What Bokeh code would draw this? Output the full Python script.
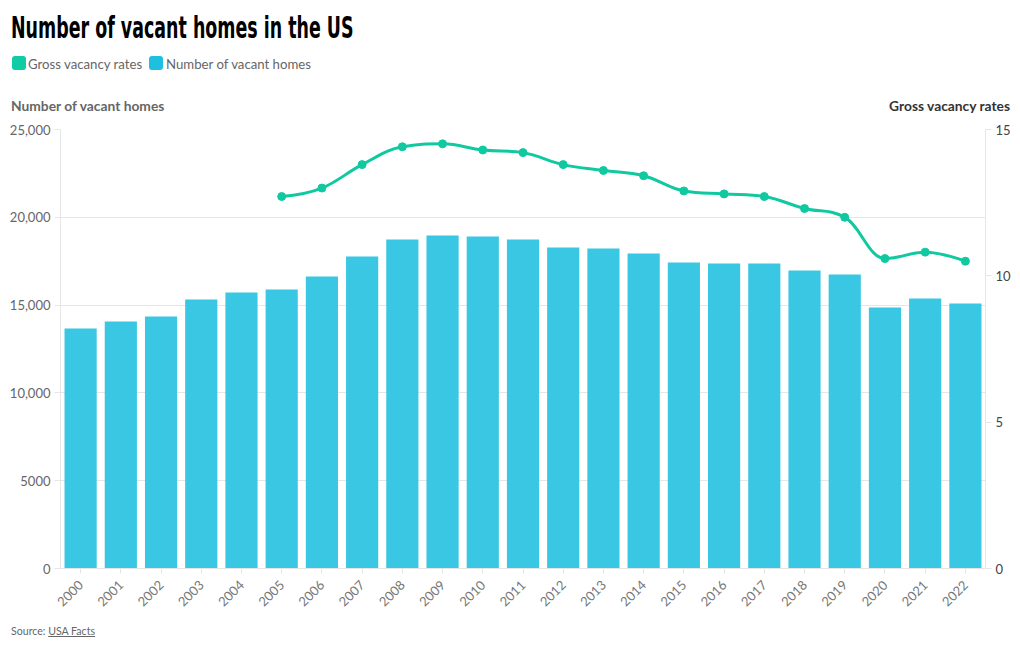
from math import pi
from bokeh.plotting import figure
from bokeh.models import FactorRange, Range1d, LinearAxis, FixedTicker, Div
from bokeh.layouts import column
from bokeh.embed import file_html
from bokeh.resources import INLINE

# ---------------- data ----------------
years = [str(y) for y in range(2000, 2023)]
vacant_homes = [13670, 14070, 14350, 15320, 15720, 15890, 16630, 17770, 18740, 18960,
                18910, 18740, 18280, 18220, 17940, 17430, 17370, 17370, 16970, 16740,
                14860, 15380, 15090]
rate_years = [str(y) for y in range(2005, 2023)]
vacancy_rates = [12.71, 13.0, 13.8, 14.41, 14.51, 14.3, 14.21, 13.8, 13.6, 13.42,
                 12.9, 12.8, 12.71, 12.3, 12.0, 10.59, 10.81, 10.5]
left_ticks = [0, 5000, 10000, 15000, 20000, 25000]
left_tick_labels = ["0", "5000", "10,000", "15,000", "20,000", "25,000"]
right_ticks = [0, 5, 10, 15]

title_text = "Number of vacant homes in the US"
series_names = ["Gross vacancy rates", "Number of vacant homes"]
left_axis_title = "Number of vacant homes"
right_axis_title = "Gross vacancy rates"
source_name = "USA Facts"

# ---------------- styles ----------------
BAR_COLOR = "#3ac7e3"
LINE_COLOR = "#10c9a0"
LEG_COLORS = ["#0fcca4", "#1fbfe0"]
FONT = "Lato"
GRID = "#e6e6e6"
TOTAL_W = 1020
HEADER_H = 115
FOOTER_H = 28

# ---------------- header ----------------
header_html = f"""
<div style="position:relative;width:{TOTAL_W}px;height:{HEADER_H}px;font-family:'{FONT}',sans-serif;">
  <div style="position:absolute;left:11px;top:13px;white-space:nowrap;font-family:'DejaVu Sans',sans-serif;
       font-weight:700;font-size:31px;line-height:28px;color:#000;transform:scaleX(0.5626);transform-origin:0 0;">{title_text}</div>
  <div style="position:absolute;left:12px;top:56px;width:14px;height:14px;border-radius:3px;background:{LEG_COLORS[0]};"></div>
  <div style="position:absolute;left:28px;top:56.5px;white-space:nowrap;font-size:13.2px;line-height:14px;color:#666;">{series_names[0]}</div>
  <div style="position:absolute;left:149px;top:56px;width:14px;height:14px;border-radius:3px;background:{LEG_COLORS[1]};"></div>
  <div style="position:absolute;left:166px;top:56.5px;white-space:nowrap;font-size:13.2px;line-height:14px;color:#666;">{series_names[1]}</div>
  <div style="position:absolute;left:11px;top:99px;white-space:nowrap;font-size:13.8px;line-height:13px;font-weight:700;color:#666;">{left_axis_title}</div>
  <div style="position:absolute;right:10px;top:99px;white-space:nowrap;font-size:13.8px;line-height:13px;font-weight:700;color:#333;">{right_axis_title}</div>
</div>
"""
header = Div(text=header_html, width=TOTAL_W, height=HEADER_H, margin=(0, 0, 0, 0))

# ---------------- figure ----------------
FL, FR, FT, FB = 60, 35, 14, 50
FW, FH = 925, 439
W, H = FL + FW + FR, FT + FH + FB

p = figure(width=W, height=H, x_range=FactorRange(factors=years, range_padding=0),
           y_range=Range1d(0, 25000), output_backend="svg", toolbar_location=None,
           min_border_left=FL, min_border_right=FR, min_border_top=FT, min_border_bottom=FB,
           margin=(0, 0, 0, 0))
p.outline_line_color = None
p.xgrid.grid_line_color = None
p.ygrid.grid_line_color = GRID
p.ygrid.ticker = FixedTicker(ticks=left_ticks)

ya = p.yaxis[0]
ya.ticker = FixedTicker(ticks=left_ticks)
ya.major_label_overrides = {t: l for t, l in zip(left_ticks, left_tick_labels)}
ya.axis_line_color = GRID
ya.major_tick_line_color = GRID
ya.major_tick_out = 6
ya.major_tick_in = 0
ya.minor_tick_line_color = None
ya.major_label_text_color = "#666666"
ya.major_label_text_font = FONT
ya.major_label_text_font_size = "13px"
ya.major_label_standoff = 4

p.extra_y_ranges = {"rate": Range1d(0, 15)}
ra = LinearAxis(y_range_name="rate", ticker=FixedTicker(ticks=right_ticks))
ra.axis_line_color = GRID
ra.major_tick_line_color = GRID
ra.major_tick_out = 6
ra.major_tick_in = 0
ra.minor_tick_line_color = None
ra.major_label_text_color = "#444444"
ra.major_label_text_font = FONT
ra.major_label_text_font_size = "13px"
ra.major_label_standoff = 4
p.add_layout(ra, "right")

xa = p.xaxis[0]
xa.major_label_orientation = pi / 4
xa.axis_line_color = GRID
xa.major_tick_line_color = GRID
xa.major_tick_out = 5
xa.major_tick_in = 0
xa.major_label_text_color = "#777777"
xa.major_label_text_font = FONT
xa.major_label_text_font_size = "13px"
xa.major_label_standoff = 9

p.vbar(x=years, top=vacant_homes, width=0.8, fill_color=BAR_COLOR, line_color=None)

# smoothed line (spline control points computed from the data points)
xs = [years.index(y) + 0.5 for y in rate_years]
ys = vacancy_rates
n = len(xs)
lc = [(xs[i], ys[i]) for i in range(n)]
rc = [(xs[i], ys[i]) for i in range(n)]
s = 1.5
for i in range(1, n - 1):
    x, y = xs[i], ys[i]
    px_, py_ = xs[i - 1], ys[i - 1]
    nx_, ny_ = xs[i + 1], ys[i + 1]
    lcx, lcy = (s * x + px_) / (s + 1), (s * y + py_) / (s + 1)
    rcx, rcy = (s * x + nx_) / (s + 1), (s * y + ny_) / (s + 1)
    if rcx != lcx:
        corr = ((rcy - lcy) * (rcx - x)) / (rcx - lcx) + y - rcy
        lcy += corr
        rcy += corr
    if lcy > max(py_, y):
        lcy = max(py_, y); rcy = 2 * y - lcy
    elif lcy < min(py_, y):
        lcy = min(py_, y); rcy = 2 * y - lcy
    if rcy > max(ny_, y):
        rcy = max(ny_, y); lcy = 2 * y - rcy
    elif rcy < min(ny_, y):
        rcy = min(ny_, y); lcy = 2 * y - rcy
    lc[i] = (lcx, lcy)
    rc[i] = (rcx, rcy)

p.bezier(x0=xs[:-1], y0=ys[:-1], x1=xs[1:], y1=ys[1:],
         cx0=[c[0] for c in rc[:-1]], cy0=[c[1] for c in rc[:-1]],
         cx1=[c[0] for c in lc[1:]], cy1=[c[1] for c in lc[1:]],
         line_color=LINE_COLOR, line_width=3, y_range_name="rate")
p.scatter(x=rate_years, y=vacancy_rates, size=8, fill_color=LINE_COLOR,
          line_color=LINE_COLOR, y_range_name="rate")

# ---------------- footer ----------------
footer_html = f"""
<div style="position:relative;width:{TOTAL_W}px;height:{FOOTER_H}px;font-family:'{FONT}',sans-serif;">
  <div style="position:absolute;left:11px;top:8px;white-space:nowrap;font-size:10.6px;line-height:11px;color:#666;">Source: <span style="text-decoration:underline;">{source_name}</span></div>
</div>
"""
footer = Div(text=footer_html, width=TOTAL_W, height=FOOTER_H, margin=(0, 0, 0, 0))

layout = column(header, p, footer, spacing=0)
open("out.html", "w").write(file_html(layout, INLINE))
